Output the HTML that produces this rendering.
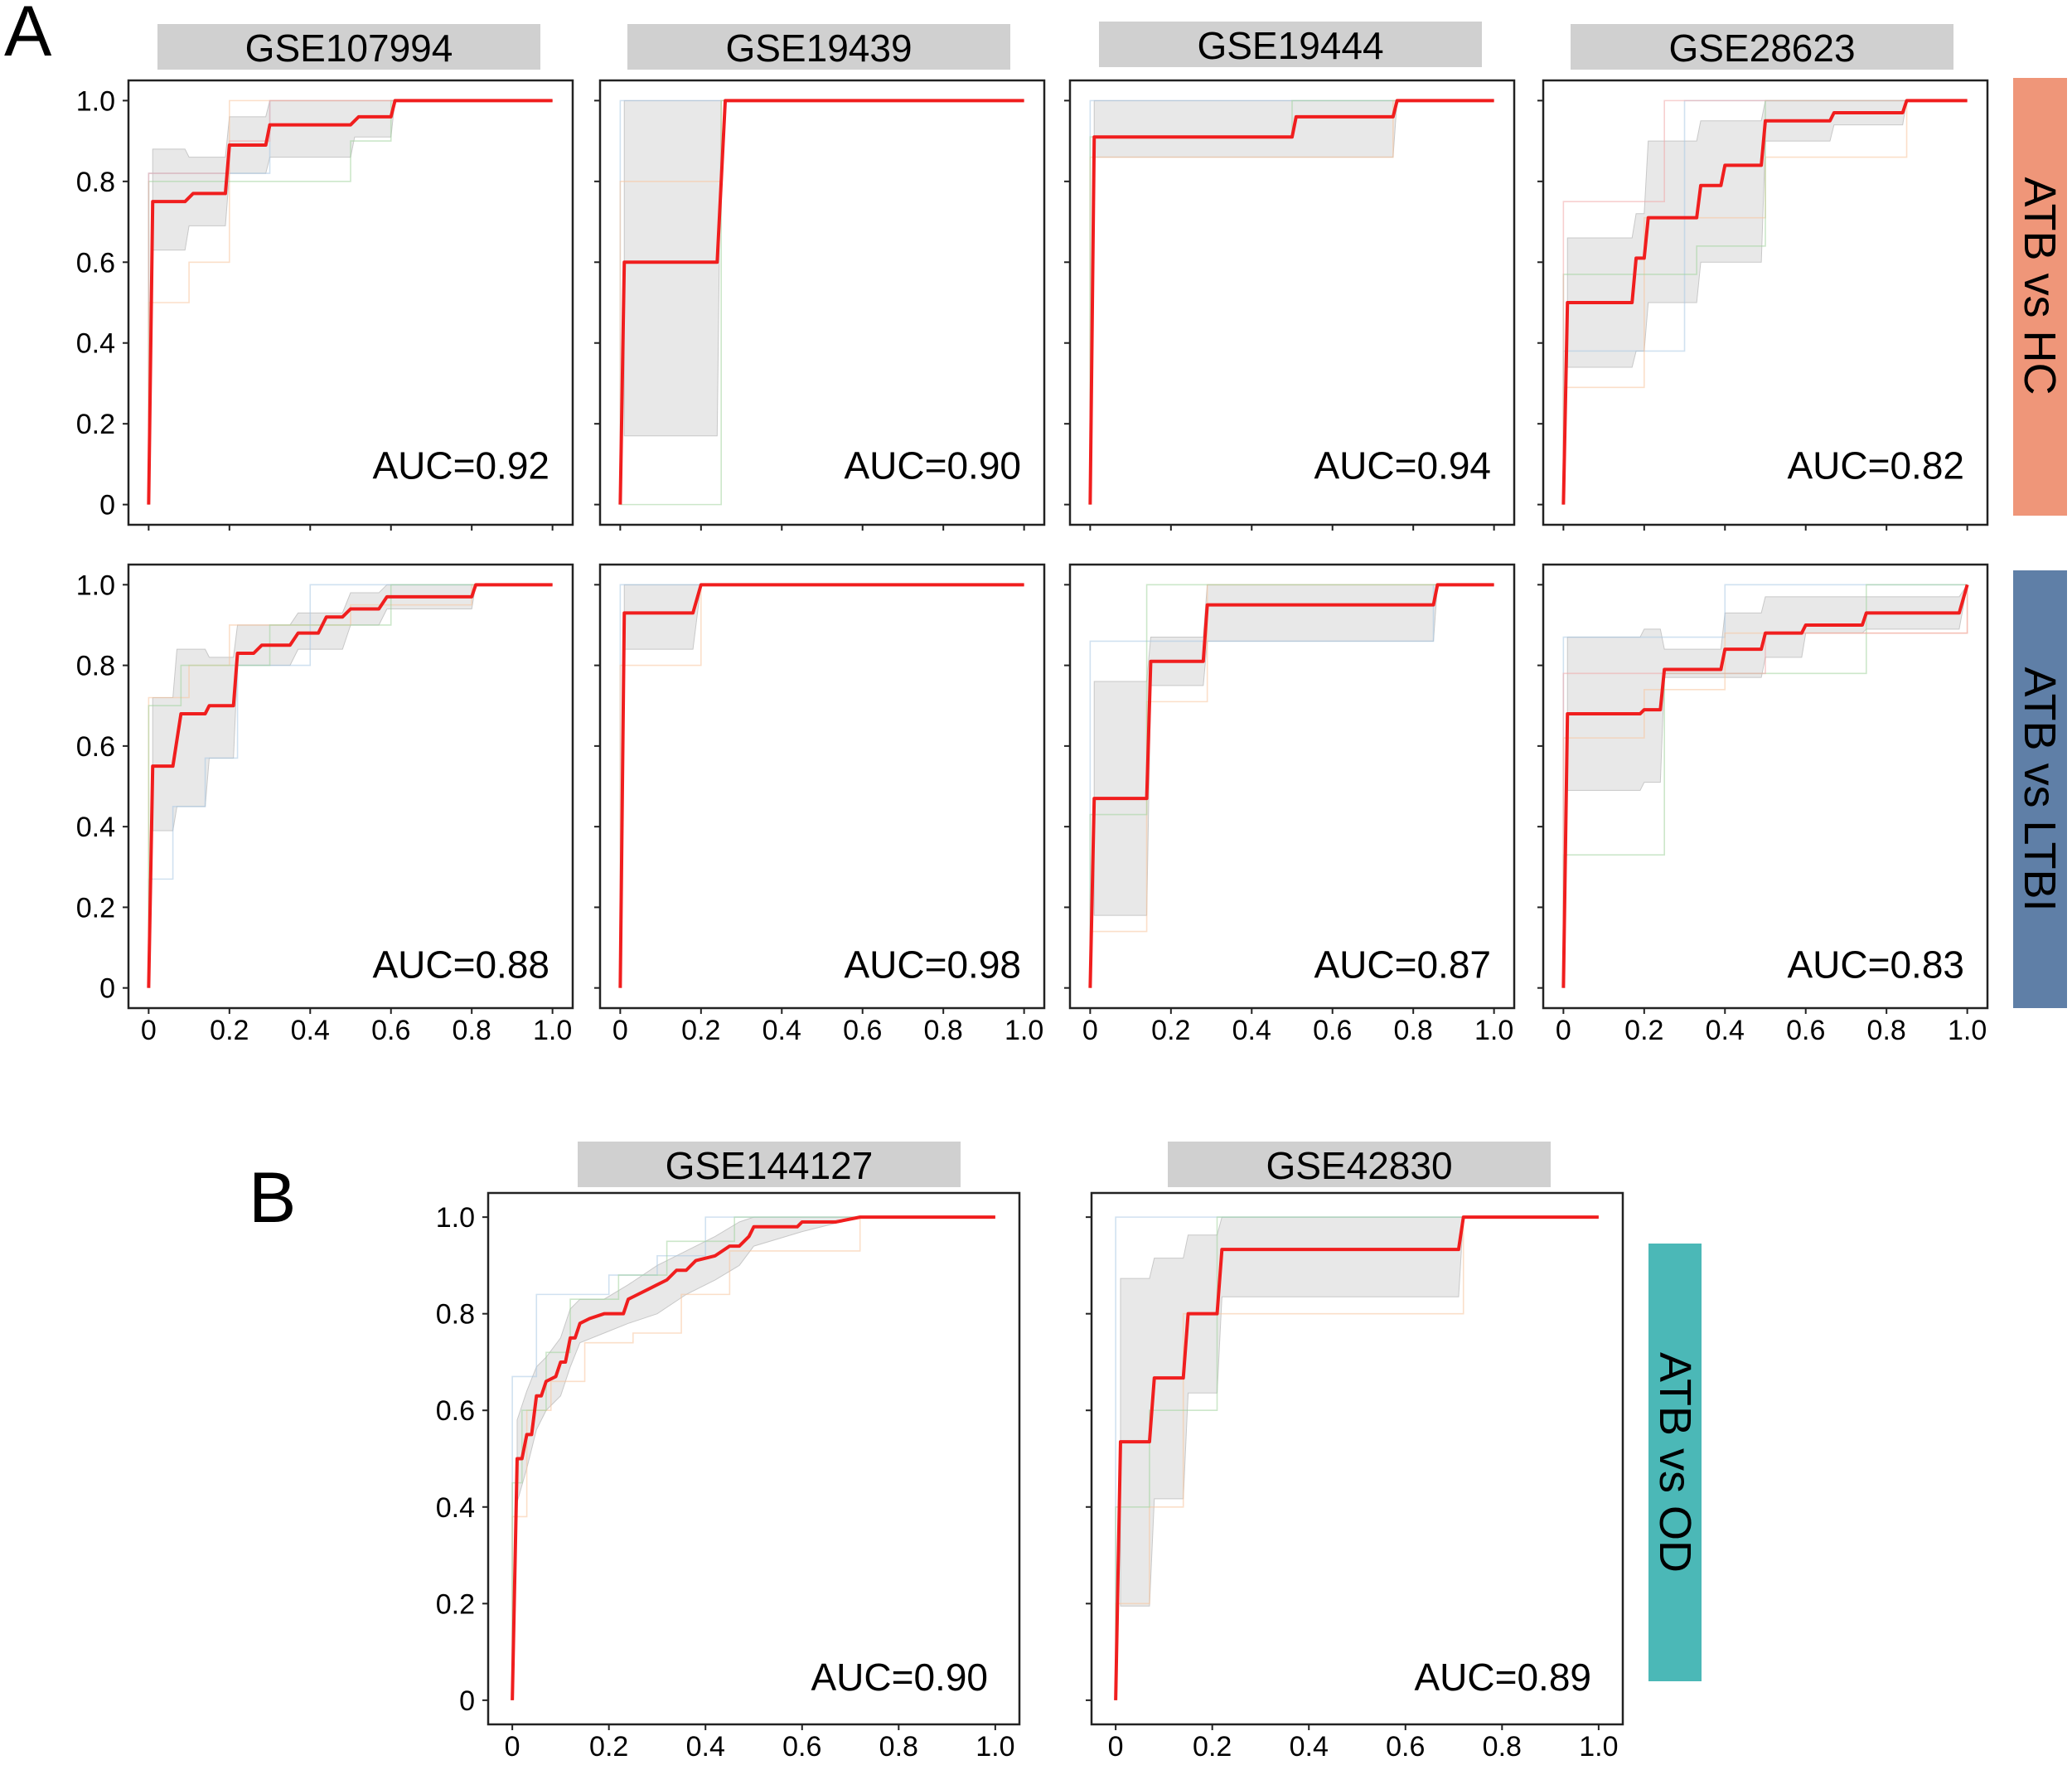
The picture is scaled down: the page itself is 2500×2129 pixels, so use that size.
<!DOCTYPE html>
<html><head><meta charset="utf-8"><style>
html,body{margin:0;padding:0;background:#fff}
svg{display:block}
text{font-family:"Liberation Sans",Arial,sans-serif;fill:#000}
</style></head><body>
<svg id="fig" xmlns="http://www.w3.org/2000/svg" width="2500" height="2129" viewBox="0 0 2500 2129">
<rect width="2500" height="2129" fill="#fff"/>
<text x="5" y="67" font-size="86">A</text>
<text x="300" y="1474" font-size="86">B</text>
<rect x="2429" y="94" width="65" height="528" fill="#EF9679"/>
<text transform="translate(2443,345) rotate(90)" text-anchor="middle" font-size="54">ATB vs HC</text>
<rect x="2429" y="688" width="65" height="528" fill="#5F7FA7"/>
<text transform="translate(2443,952) rotate(90)" text-anchor="middle" font-size="54">ATB vs LTBI</text>
<rect x="1989" y="1500" width="64" height="528" fill="#4BB8B7"/>
<text transform="translate(2003,1764) rotate(90)" text-anchor="middle" font-size="54">ATB vs OD</text>
<g id="plots"></g>
</svg>
<script>
// ---- data (one entry per panel) ----
const titles = ["GSE107994","GSE19439","GSE19444","GSE28623","GSE107994","GSE19439","GSE19444","GSE28623","GSE144127","GSE42830"];
const aucLabels = ["AUC=0.92","AUC=0.90","AUC=0.94","AUC=0.82","AUC=0.88","AUC=0.98","AUC=0.87","AUC=0.83","AUC=0.90","AUC=0.89"];
const xTicks = [0,0.2,0.4,0.6,0.8,1.0];
const xTickLabels = ["0","0.2","0.4","0.6","0.8","1.0"];
const yTicks = [0,0.2,0.4,0.6,0.8,1.0];
const yTickLabels = ["0","0.2","0.4","0.6","0.8","1.0"];
const meanFpr = [
 [0,0.01,0.09,0.11,0.19,0.2,0.29,0.3,0.5,0.52,0.6,0.61,1],
 [0,0.01,0.24,0.26,1],
 [0,0.01,0.5,0.51,0.75,0.76,1],
 [0,0.01,0.17,0.18,0.2,0.21,0.33,0.34,0.39,0.4,0.49,0.5,0.66,0.67,0.84,0.85,1],
 [0,0.01,0.06,0.08,0.14,0.15,0.21,0.22,0.26,0.28,0.35,0.37,0.42,0.44,0.48,0.5,0.57,0.59,0.8,0.81,1],
 [0,0.01,0.18,0.2,1],
 [0,0.01,0.14,0.15,0.28,0.29,0.85,0.86,1],
 [0,0.01,0.19,0.2,0.24,0.25,0.39,0.4,0.49,0.5,0.59,0.6,0.74,0.75,0.98,1],
 [0,0.01,0.02,0.03,0.04,0.05,0.06,0.07,0.09,0.1,0.11,0.12,0.13,0.14,0.16,0.19,0.23,0.24,0.26,0.28,0.3,0.32,0.34,0.36,0.38,0.42,0.45,0.47,0.49,0.5,0.59,0.6,0.67,0.72,1],
 [0,0.01,0.07,0.08,0.14,0.15,0.21,0.22,0.71,0.72,1]
];
const meanTpr = [
 [0,0.75,0.75,0.77,0.77,0.89,0.89,0.94,0.94,0.96,0.96,1,1],
 [0,0.6,0.6,1,1],
 [0,0.91,0.91,0.96,0.96,1,1],
 [0,0.5,0.5,0.61,0.61,0.71,0.71,0.79,0.79,0.84,0.84,0.95,0.95,0.97,0.97,1,1],
 [0,0.55,0.55,0.68,0.68,0.70,0.70,0.83,0.83,0.85,0.85,0.88,0.88,0.92,0.92,0.94,0.94,0.97,0.97,1,1],
 [0,0.93,0.93,1,1],
 [0,0.47,0.47,0.81,0.81,0.95,0.95,1,1],
 [0,0.68,0.68,0.69,0.69,0.79,0.79,0.84,0.84,0.88,0.88,0.90,0.90,0.93,0.93,1],
 [0,0.5,0.5,0.55,0.55,0.63,0.63,0.66,0.67,0.7,0.7,0.75,0.75,0.78,0.79,0.8,0.8,0.83,0.84,0.85,0.86,0.87,0.89,0.89,0.91,0.92,0.94,0.94,0.96,0.98,0.98,0.99,0.99,1,1],
 [0,0.535,0.535,0.667,0.667,0.8,0.8,0.933,0.933,1,1]
];
const bandFpr = [
 [0.01,0.09,0.1,0.19,0.2,0.29,0.3,0.5,0.51,0.6,0.61,1],
 [0.01,0.24,0.25,1],
 [0.01,0.5,0.51,0.75,0.76,1],
 [0.01,0.17,0.18,0.2,0.21,0.33,0.34,0.49,0.5,0.66,0.67,0.84,0.85,1],
 [0.01,0.06,0.07,0.14,0.15,0.21,0.22,0.35,0.37,0.48,0.5,0.57,0.59,0.8,0.81,1],
 [0.01,0.18,0.2,1],
 [0.01,0.14,0.15,0.28,0.29,0.85,0.86,1],
 [0.01,0.19,0.2,0.24,0.25,0.39,0.4,0.49,0.5,0.59,0.6,0.74,0.75,0.98,1],
 [0.01,0.03,0.05,0.07,0.1,0.12,0.14,0.19,0.24,0.3,0.36,0.42,0.47,0.5,0.6,0.72,1],
 [0.01,0.07,0.08,0.14,0.15,0.21,0.22,0.71,0.72,1]
];
const bandUpper = [
 [0.88,0.88,0.86,0.86,0.96,0.96,1,1,1,1,1,1],
 [1,1,1,1],
 [1,1,1,1,1,1],
 [0.66,0.66,0.72,0.72,0.9,0.9,0.95,0.95,1,1,1,1,1,1],
 [0.72,0.72,0.84,0.84,0.82,0.82,0.9,0.9,0.93,0.93,0.98,0.98,1,1,1,1],
 [1,1,1,1],
 [0.76,0.76,0.87,0.87,1,1,1,1],
 [0.87,0.87,0.89,0.89,0.84,0.84,0.93,0.93,0.97,0.97,0.97,0.97,0.97,0.97,1],
 [0.58,0.64,0.69,0.71,0.75,0.81,0.83,0.83,0.86,0.9,0.93,0.96,0.99,1,1,1,1],
 [0.873,0.873,0.915,0.915,0.963,0.963,1,1,1,1]
];
const bandLower = [
 [0.63,0.63,0.69,0.69,0.82,0.82,0.86,0.86,0.91,0.91,1,1],
 [0.17,0.17,1,1],
 [0.86,0.86,0.86,0.86,1,1],
 [0.34,0.34,0.38,0.38,0.5,0.5,0.6,0.6,0.9,0.9,0.94,0.94,1,1],
 [0.39,0.39,0.45,0.45,0.57,0.57,0.8,0.8,0.84,0.84,0.9,0.9,0.94,0.94,1,1],
 [0.84,0.84,1,1],
 [0.18,0.18,0.75,0.75,0.86,0.86,1,1],
 [0.49,0.49,0.51,0.51,0.77,0.77,0.77,0.77,0.82,0.82,0.88,0.88,0.89,0.89,1],
 [0.41,0.48,0.56,0.6,0.63,0.69,0.74,0.76,0.78,0.8,0.84,0.87,0.9,0.94,0.97,1,1],
 [0.195,0.195,0.417,0.417,0.636,0.636,0.835,0.835,1,1]
];
// fold curves: step-post points per panel
const foldFpr = [
 [[0,0.3,1],[0,0.1,0.2,1],[0,0.5,0.6,1],[0,0.2,0.3,1]],
 [[0,1],[0,0.25,1],[0,0.25,1]],
 [[0,1],[0,0.75,1],[0,0.5,1]],
 [[0,0.2,0.3,1],[0,0.2,0.5,0.85,1],[0,0.33,0.5,1],[0,0.1,0.25,1]],
 [[0,0.06,0.14,0.22,0.4,1],[0,0.1,0.2,0.5,0.8,1],[0,0.08,0.3,0.6,1]],
 [[0,1],[0,0.2,1]],
 [[0,0.85,1],[0,0.14,0.29,1],[0,0.14,1]],
 [[0,0.4,0.75,1],[0,0.2,0.4,1],[0,0.25,0.6,0.75,1],[0,0.5,1]],
 [[0,0.05,0.12,0.2,0.3,0.4,0.5,1],[0,0.03,0.08,0.15,0.25,0.35,0.45,0.72,1],[0,0.02,0.07,0.12,0.22,0.32,0.46,1]],
 [[0,1],[0,0.07,0.14,0.72,1],[0,0.07,0.21,1]]
];
const foldTpr = [
 [[0.82,1,1],[0.5,0.6,1,1],[0.8,0.9,1,1],[0.82,0.9,1,1]],
 [[1,1],[0.8,1,1],[0,1,1]],
 [[1,1],[0.86,1,1],[0.91,1,1]],
 [[0.38,0.38,1,1],[0.29,0.71,0.86,1,1],[0.57,0.64,1,1],[0.75,0.75,1,1]],
 [[0.27,0.45,0.57,0.8,1,1],[0.72,0.8,0.9,0.95,1,1],[0.7,0.8,0.9,1,1]],
 [[1,1],[0.8,1,1]],
 [[0.86,1,1],[0.14,0.71,1,1],[0.43,1,1]],
 [[0.87,1,1,1],[0.62,0.74,0.88,1],[0.33,0.78,0.78,1,1],[0.78,0.88,1]],
 [[0.67,0.84,0.84,0.88,0.92,1,1,1],[0.38,0.6,0.66,0.74,0.76,0.84,0.93,1,1],[0.45,0.6,0.72,0.83,0.88,0.95,1,1]],
 [[1,1],[0.2,0.4,0.8,1,1],[0.4,0.6,1,1]]
];
const foldColors = ["#a9c9e3","#f7c49c","#a3d49e","#f0a8a8","#cbbbe0"];

// ---- layout ----
const panelBoxes = [
 [155,97,536,536],[724,97,536,536],[1291,97,536,536],[1862,97,536,536],
 [155,681,536,535],[724,681,536,535],[1291,681,536,535],[1862,681,536,535],
 [589,1439,641,641],[1317,1439,641,641]
];
const titleBars = [[190,29],[757,29],[1326,26],[1895,29],[null],[null],[null],[null],[697,1377],[1409,1377]];
const showYLabels = [1,0,0,0,1,0,0,0,1,0];
const showXLabels = [0,0,0,0,1,1,1,1,1,1];

const NS = "http://www.w3.org/2000/svg";
const root = document.getElementById('plots');
function mk(tag, attrs, parent){
  const e = document.createElementNS(NS, tag);
  for (const k in attrs) e.setAttribute(k, attrs[k]);
  parent.appendChild(e);
  return e;
}
panelBoxes.forEach((b, i) => {
  const [bx, by, bw, bh] = b;
  const sx = v => bx + bw * (v + 0.05) / 1.1;
  const sy = v => by + bh - bh * (v + 0.05) / 1.1;
  const g = mk('g', {}, root);
  
  
  if (titleBars[i][0] !== null) {
    const r = mk('rect', {x: titleBars[i][0], y: titleBars[i][1], width: 462, height: 55, fill: '#d0d0d0'}, g);
    
    
    const t = mk('text', {x: titleBars[i][0] + 231, y: titleBars[i][1] + 45, 'text-anchor': 'middle', 'font-size': 46}, g);
    t.textContent = titles[i];
    
    
  }
  const bf = bandFpr[i], bu = bandUpper[i], bl = bandLower[i];
  let pts = bf.map((x, k) => sx(x) + ',' + sy(bu[k]));
  for (let k = bf.length - 1; k >= 0; k--) pts.push(sx(bf[k]) + ',' + sy(bl[k]));
  const band = mk('polygon', {points: pts.join(' '), fill: '#d9d9d9', 'fill-opacity': 0.6, stroke: '#c8c8c8', 'stroke-width': 1}, g);
  
  
  foldFpr[i].forEach((fx, f) => {
    const fy = foldTpr[i][f];
    let d = 'M' + sx(0) + ',' + sy(0) + ' L' + sx(fx[0]) + ',' + sy(fy[0]);
    for (let k = 1; k < fx.length; k++) d += ' L' + sx(fx[k]) + ',' + sy(fy[k - 1]) + ' L' + sx(fx[k]) + ',' + sy(fy[k]);
    const p = mk('path', {d: d, fill: 'none', stroke: foldColors[f % 5], 'stroke-width': 1.6, 'stroke-opacity': 0.55}, g);
    
    
  });
  const mp = meanFpr[i].map((x, k) => sx(x) + ',' + sy(meanTpr[i][k])).join(' ');
  const m = mk('polyline', {points: mp, fill: 'none', stroke: '#f01e1e', 'stroke-width': 4, 'stroke-linejoin': 'round'}, g);
  
  
  const fr = mk('rect', {x: bx, y: by, width: bw, height: bh, fill: 'none', stroke: '#222', 'stroke-width': 2.5}, g);
  
  
  yTicks.forEach((v, k) => {
    const tk = mk('line', {x1: bx - 7, x2: bx, y1: sy(v), y2: sy(v), stroke: '#222', 'stroke-width': 2}, g);
    
    
    if (showYLabels[i]) {
      const t = mk('text', {x: bx - 16, y: sy(v) + 12, 'text-anchor': 'end', 'font-size': 34}, g);
      t.textContent = yTickLabels[k];
      
      
    }
  });
  xTicks.forEach((v, k) => {
    const tk = mk('line', {x1: sx(v), x2: sx(v), y1: by + bh, y2: by + bh + 7, stroke: '#222', 'stroke-width': 2}, g);
    
    
    if (showXLabels[i]) {
      const t = mk('text', {x: sx(v), y: by + bh + 38, 'text-anchor': 'middle', 'font-size': 34}, g);
      t.textContent = xTickLabels[k];
      
      
    }
  });
  const aucY = i < 4 ? sy(0) - 31 : sy(0) - 12;
  const aucR = i < 8 ? 28 : 38;
  const a = mk('text', {x: bx + bw - aucR, y: aucY, 'text-anchor': 'end', 'font-size': 46}, g);
  a.textContent = aucLabels[i];
  
  
});
</script>
</body></html>
